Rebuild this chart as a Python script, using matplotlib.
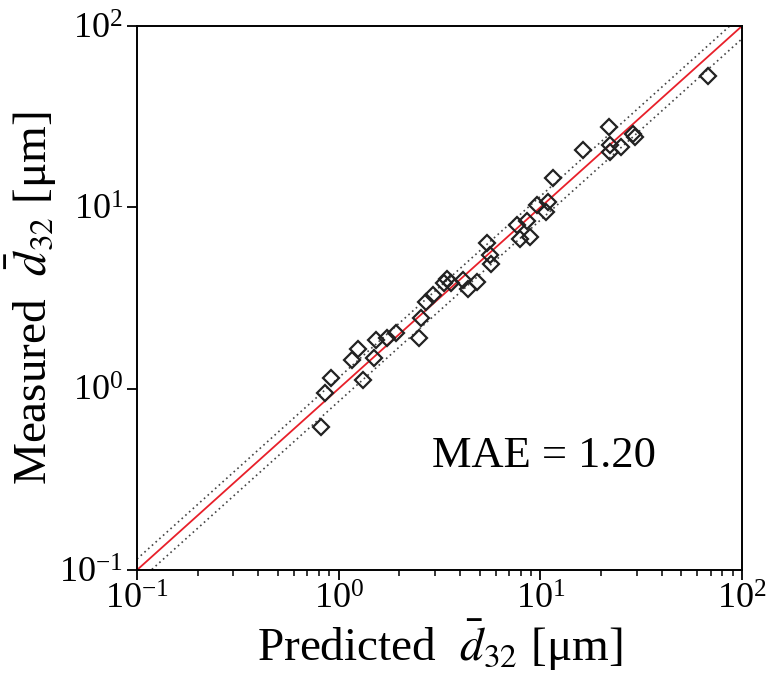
import numpy as np
from matplotlib import pyplot as plt
from matplotlib.ticker import LogLocator, NullLocator, FuncFormatter

# predicted vs measured Sauter mean diameter (um)
predicted = [0.82, 0.855, 0.92, 1.17, 1.25, 1.32, 1.49, 1.54, 1.74, 1.92,
             2.51, 2.55, 2.71, 2.92, 3.33, 3.44, 3.60, 4.12, 4.36, 4.83,
             5.42, 5.62, 5.69, 7.63, 7.92, 8.55, 8.88, 9.58, 10.7, 10.9,
             11.6, 16.3, 21.9, 22.1, 22.1, 25.1, 28.7, 29.4, 68.0]
measured = [0.615, 0.95, 1.14, 1.44, 1.65, 1.11, 1.47, 1.86, 1.90, 2.02,
            1.90, 2.45, 3.02, 3.29, 3.84, 4.03, 3.83, 3.98, 3.53, 3.89,
            6.34, 5.46, 4.87, 7.95, 6.69, 8.41, 6.89, 10.3, 9.47, 10.75,
            14.6, 20.7, 27.6, 22.1, 20.2, 21.6, 25.4, 24.5, 53.1]
mae_text = "MAE = 1.20"
band = 0.15  # dotted lines at +/-15 %

plt.rcParams['font.family'] = 'serif'
plt.rcParams['font.serif'] = ['Liberation Serif', 'DejaVu Serif']
plt.rcParams['mathtext.fontset'] = 'stix'


def pow10(v, pos):
    return r'$\mathregular{10^{%d}}$' % int(round(np.log10(v)))


fig = plt.figure(figsize=(7.67, 6.78), dpi=100)
ax = fig.add_axes([137/767, 108/678, 605/767, 544/678])

line = np.array([0.1, 100])
ax.plot(line, line, color='#e8202a', lw=1.3, zorder=2)
ax.plot(line, line*(1+band), color='#444444', lw=1.2, ls=(0, (1, 2)), zorder=2)
ax.plot(line, line*(1-band), color='#444444', lw=1.2, ls=(0, (1, 2)), zorder=2)

ax.plot(predicted, measured, ls='none', marker='D', markersize=8.5,
        markerfacecolor='none', markeredgecolor='#222222', markeredgewidth=1.6, zorder=3)

ax.set_xscale('log')
ax.set_yscale('log')
ax.set_xlim(0.1, 100)
ax.set_ylim(0.1, 100)

ax.xaxis.set_major_locator(LogLocator(base=10, numticks=10))
ax.xaxis.set_minor_locator(LogLocator(base=10, subs=np.arange(2, 10), numticks=10))
ax.yaxis.set_major_locator(LogLocator(base=10, numticks=10))
ax.yaxis.set_minor_locator(NullLocator())
ax.xaxis.set_major_formatter(FuncFormatter(pow10))
ax.yaxis.set_major_formatter(FuncFormatter(pow10))
ax.tick_params(which='major', direction='out', length=7, width=1.3, labelsize=26, pad=3)
ax.tick_params(which='minor', direction='out', length=4, width=1.1)
for s in ax.spines.values():
    s.set_linewidth(1.4)

ax.set_xlabel(r'Predicted  $\bar{d}_{32}$ [μm]', fontsize=34, labelpad=0)
ax.set_ylabel(r'Measured  $\bar{d}_{32}$ [μm]', fontsize=34, labelpad=0)

ax.text(0.487, 0.21, mae_text, transform=ax.transAxes, fontsize=32, va='center', ha='left')

plt.savefig('out.png', dpi=100)
